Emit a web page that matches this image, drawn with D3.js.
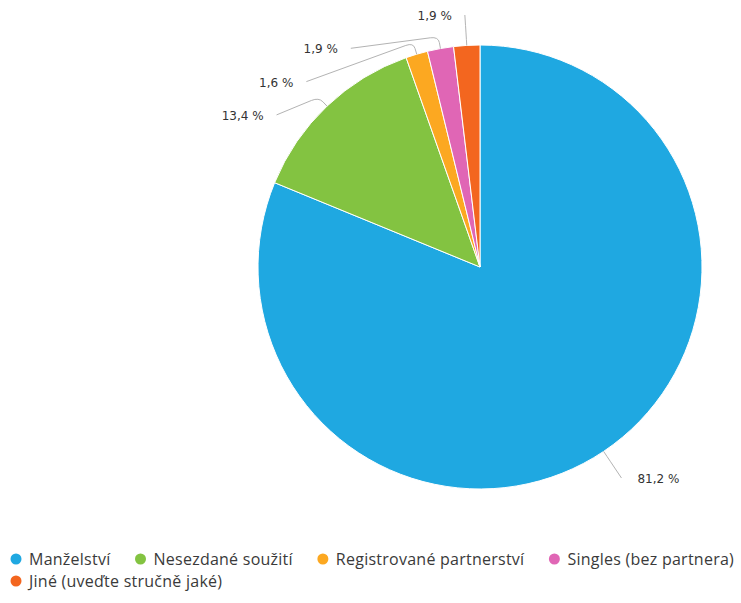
<!DOCTYPE html>
<html><head><meta charset="utf-8">
<script src="https://cdn.jsdelivr.net/npm/d3@7"></script>
<style>
html,body{margin:0;padding:0;background:#fff;}
svg{display:block;}
</style></head>
<body>
<script>
const categories = ["Manželství","Nesezdané soužití","Registrované partnerství","Singles (bez partnera)","Jiné (uveďte stručně jaké)"];
const values = [81.2, 13.4, 1.6, 1.9, 1.9];
const labels = ["81,2 %","13,4 %","1,6 %","1,9 %","1,9 %"];
const colors = ["#1fa8e1","#83c341","#fca821","#e066b5","#f3661f"];

const W = 741, H = 603;
const cx = 480, cy = 267, r = 222;
const svg = d3.select("body").append("svg").attr("width", W).attr("height", H);

const data = categories.map((c,i)=>({cat:c, value:values[i], label:labels[i], color:colors[i]}));
const pie = d3.pie().value(d=>d.value).sort(null);
const arcs = pie(data);
const arc = d3.arc().innerRadius(0).outerRadius(r);

const g = svg.append("g").attr("transform", `translate(${cx},${cy})`);
g.selectAll("path.slice").data(arcs).join("path")
  .attr("class","slice")
  .attr("d", arc)
  .attr("fill", d=>d.data.color)
  .attr("stroke","#fff").attr("stroke-width",1).attr("stroke-linejoin","round");

// label layout
const R = r + 32, elbow = r + 12, spacing = 33.3, topY = -(r + 30);
const pt = (a, rad) => [rad*Math.sin(a), -rad*Math.cos(a)];
const items = arcs.map(a=>{
  const mid = (a.startAngle + a.endAngle)/2;
  const nat = pt(mid, R);
  return {a, mid, p0: pt(mid, r), p1: pt(mid, elbow), ny: nat[1], y: nat[1], right: Math.sin(mid) >= 0};
});
["left","right"].forEach(side=>{
  const list = items.filter(d => (side==="right") === d.right).sort((a,b)=>a.y-b.y);
  list.forEach((d,i)=>{
    d.y = i === 0 ? Math.max(d.y, topY) : Math.max(d.y, list[i-1].y + spacing);
  });
  list.forEach(d=>{
    const yy = (d.y - d.ny < 3) ? d.ny : d.y;
    const dy = Math.max(-R, Math.min(R, yy));
    const dx = Math.sqrt(R*R - dy*dy);
    d.p2 = [d.right ? dx : -dx, d.y];
  });
});

function connector(d){
  const [x0,y0]=d.p0,[x1,y1]=d.p1,[x2,y2]=d.p2;
  const rad = 8;
  const l1 = Math.hypot(x1-x0,y1-y0), l2 = Math.hypot(x2-x1,y2-y1);
  const k1 = Math.min(rad, l1/2)/ (l1||1), k2 = Math.min(rad, l2/2)/(l2||1);
  const a = [x1-(x1-x0)*k1, y1-(y1-y0)*k1];
  const b = [x1+(x2-x1)*k2, y1+(y2-y1)*k2];
  return `M${x0},${y0}L${a[0]},${a[1]}Q${x1},${y1} ${b[0]},${b[1]}L${x2},${y2}`;
}
g.selectAll("path.conn").data(items).join("path")
  .attr("class","conn")
  .attr("d", connector)
  .attr("fill","none").attr("stroke","#b3b3b3").attr("stroke-width",1);

g.selectAll("text.lbl").data(items).join("text")
  .attr("class","lbl")
  .attr("x", d=> d.p2[0] + (d.right ? 16 : -13))
  .attr("y", d=> d.p2[1] + 5)
  .attr("text-anchor", d=> d.right ? "start" : "end")
  .attr("font-family","DejaVu Sans, sans-serif")
  .attr("font-size",12)
  .attr("fill","#333")
  .text(d=>d.a.data.label);

// legend
const lg = svg.append("g");
const fontLeg = "'Open Sans', sans-serif";
let lx = 10, ly = 559;
const rowH = 22, gap = 24, maxX = 741;
data.forEach((d,i)=>{
  const it = lg.append("g");
  const t = it.append("text").attr("x", 19).attr("y", 5.5)
    .attr("font-family", fontLeg).attr("font-size", 16).attr("letter-spacing", 0.25).attr("fill","#3a3a3a")
    .text(d.cat);
  const w = 19 + t.node().getComputedTextLength();
  if (lx + w > maxX && lx > 10) { lx = 10; ly += rowH; }
  it.append("circle").attr("cx",6).attr("cy",0).attr("r",5.5).attr("fill",d.color);
  it.attr("transform",`translate(${lx},${ly})`);
  lx += w + gap;
});
</script>
</body></html>
